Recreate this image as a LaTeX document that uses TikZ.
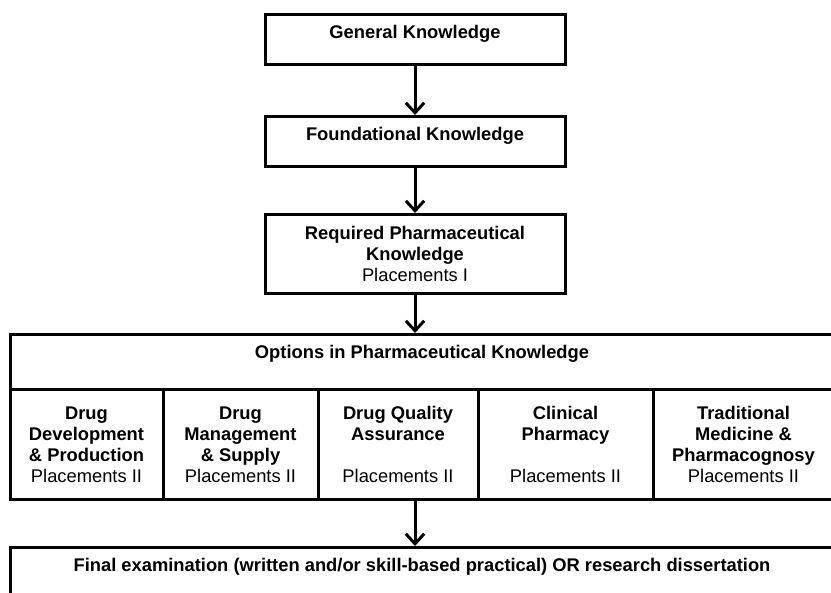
\documentclass[tikz,border=0pt]{standalone}
\usepackage{fontspec}
\setmainfont{Liberation Sans}
\usetikzlibrary{arrows.meta,positioning}
\begin{document}
\begin{tikzpicture}[x=0.6pt,y=-0.6pt]
  \tikzstyle{every node}=[font=\fontsize{11}{12.6}\selectfont\bfseries]
  \tikzstyle{box}=[draw,line width=1.8pt,inner sep=0pt,align=center]
  \tikzstyle{onerow}=[box,anchor=north,inner ysep=6pt,text height=8.4pt]
  \tikzstyle{optbox}=[box,anchor=north,minimum height=66pt]
  \tikzstyle{flow}=[line width=1.8pt,-{Straight Barb[length=6pt,width=11pt]}]
  \clip (0,0) rectangle (831,593);
  % stages
  \node[onerow,minimum width=180pt,text depth=9.6pt] (gk) at (415,13) {General Knowledge};
  \node[onerow,minimum width=180pt,text depth=9.6pt] (fk) at (415,115) {Foundational Knowledge};
  \node[box,anchor=north,minimum width=180pt,minimum height=47.4pt] (rk) at (415,213)
    {Required Pharmaceutical\\Knowledge\\\textmd{Placements I}};
  % options
  \node[onerow,minimum width=494.4pt,text depth=12.6pt] (opt) at (422,333) {Options in Pharmaceutical Knowledge};
  \node[optbox,minimum width=91.8pt] (ddp) at (86.5,388) {Drug\\Development\\\& Production\\\textmd{Placements II}};
  \node[optbox,minimum width=93pt] (dms) at (240.5,388) {Drug\\Management\\\& Supply\\\textmd{Placements II}};
  \node[optbox,minimum width=96pt] (dqa) at (398,388) {Drug Quality\\Assurance\\[12.6pt]\textmd{Placements II}};
  \node[optbox,minimum width=105pt] (cph) at (565.5,388) {Clinical\\Pharmacy\\[12.6pt]\textmd{Placements II}};
  \node[optbox,minimum width=108.6pt] (tmp) at (743.5,388) {Traditional\\Medicine \&\\Pharmacognosy\\\textmd{Placements II}};
  % final
  \node[onerow,minimum width=494.4pt,text depth=15.6pt] (fin) at (422,546)
    {Final examination (written and/or skill-based practical) OR research dissertation};
  \draw[flow] (gk) -- (fk);
  \draw[flow] (fk) -- (rk);
  \draw[flow] (rk.south) -- (rk.south |- opt.north);
  \draw[flow] (rk.south |- dqa.south) -- (rk.south |- fin.north);
\end{tikzpicture}
\end{document}
